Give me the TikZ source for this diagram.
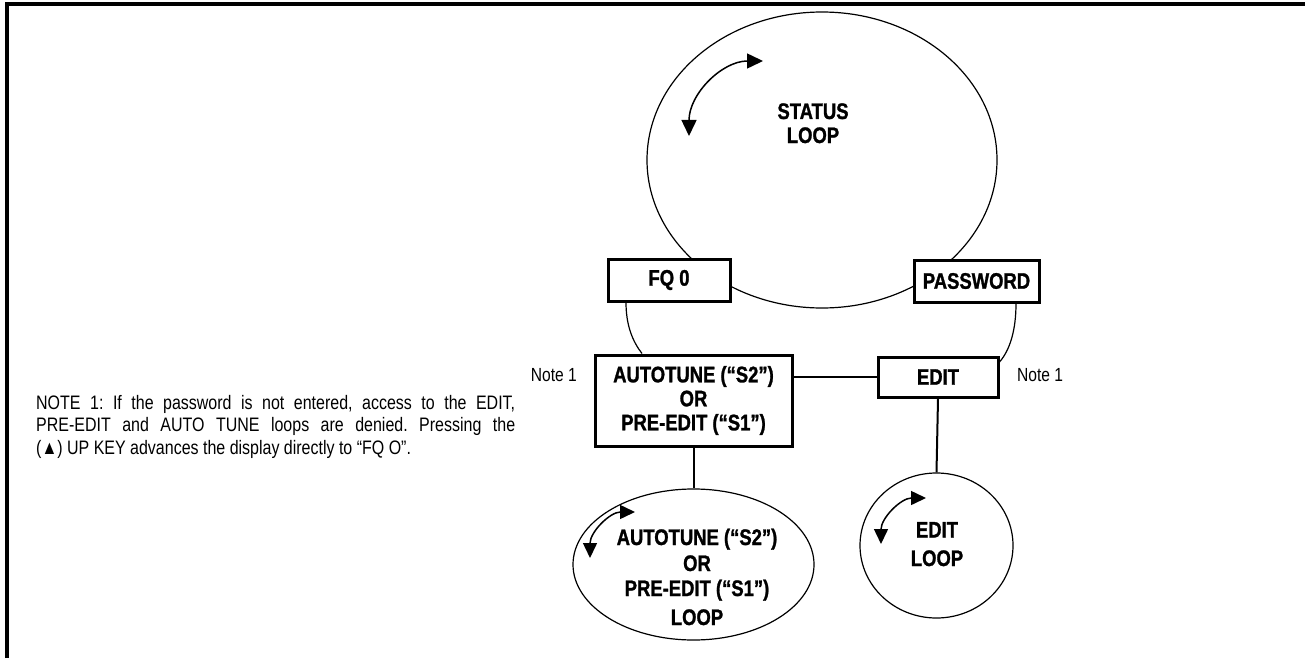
\documentclass[tikz,border=0pt]{standalone}
\usepackage{fontspec}
\setmainfont{Liberation Sans}[FakeStretch=0.82,BoldFeatures={FakeBold=1.2}]
\usetikzlibrary{shapes.geometric,arrows.meta}
\begin{document}
\frenchspacing
\begin{tikzpicture}[x=1pt,y=-1pt,
  box/.style={draw,line width=3pt,fill=white,inner sep=0pt,align=center,
    font=\bfseries\fontsize{22.5}{24}\selectfont},
  loopshape/.style={draw,ellipse,line width=1.2pt,inner sep=0pt},
  lbl/.style={font=\bfseries\fontsize{22.5}{24}\selectfont,inner sep=0pt,anchor=base},
  conn/.style={line width=2pt},
  curvy/.style={line width=1.2pt},
  cyc/.style={line width=1.5pt,{Triangle[length=15pt,width=14pt]}-{Triangle[length=15pt,width=14pt]}},
  bigcyc/.style={line width=1.5pt,{Triangle[length=16pt,width=15pt]}-{Triangle[length=16pt,width=15pt]}},
  notelbl/.style={font=\fontsize{19}{22}\selectfont,inner sep=0pt}]
\useasboundingbox (0,0) rectangle (1305,658);
% frame
\draw[line width=3.5pt] (7,658) -- (7,4) -- (1305,4);
% status loop
\node[loopshape, minimum width=350pt, minimum height=296pt] (status) at (822,160) {};
\node[lbl] (st1) at (813,119) {STATUS};
\node[lbl] (st2) at (813,143) {LOOP};
\draw[bigcyc] (763,61) .. controls (722,61) and (689,94) .. (689,136);
% boxes
\node[box, minimum width=122pt, minimum height=42pt] (fq) at (669,280) {FQ 0};
\node[box, minimum width=125pt, minimum height=42pt] (pw) at (976.5,281) {PASSWORD};
\node[box, minimum width=197pt, minimum height=91pt] (auto) at (693.5,400.5) {AUTOTUNE (“S2”)\\OR\\PRE-EDIT (“S1”)};
\node[box, minimum width=120pt, minimum height=40pt] (edit) at (938,377) {EDIT};
% loops below
\node[loopshape, minimum width=241pt, minimum height=151pt] (autoloop) at (693.5,564.5) {};
\node[loopshape, minimum width=153pt, minimum height=145pt] (editloop) at (936.5,545.5) {};
\node[lbl] (al1) at (697,545) {AUTOTUNE (“S2”)};
\node[lbl] (al2) at (697,571) {OR};
\node[lbl] (al3) at (697,596) {PRE-EDIT (“S1”)};
\node[lbl] (al4) at (697,625) {LOOP};
\node[lbl] (el1) at (937,537.5) {EDIT};
\node[lbl] (el2) at (937,566) {LOOP};
\draw[cyc] (635,512) .. controls (610,512) and (590,532) .. (590,558);
\draw[cyc] (926,498) .. controls (901,498) and (881,518) .. (881,544);
% connectors
\draw[conn] (edit.west) -- (edit.west -| auto.east);
\draw[conn] (auto.south) -- (autoloop.north);
\draw[conn] (edit.south) -- (editloop.north);
\draw[curvy] ([xshift=-43pt]fq.south) .. controls (626,326) and (633,342) .. ([xshift=-51.5pt]auto.north);
\draw[curvy] ([xshift=39.5pt]pw.south) .. controls (1016,330) and (1010,350) .. ([yshift=15pt]edit.east);
% notes
\node[notelbl, anchor=base east] (n1) at (577,381) {Note 1};
\node[notelbl, anchor=base west] (n2) at (1017,381) {Note 1};
\node[anchor=north west, inner sep=0pt, text width=479pt, align=justify,
  font=\fontsize{19.5}{22.5}\selectfont] (para) at (36,395)
  {NOTE 1: If the password is not entered, access to the EDIT,\linebreak
   PRE-EDIT and AUTO TUNE loops are denied. Pressing the\linebreak
   (▲) UP KEY advances the display directly to “FQ O”.};
\end{tikzpicture}
\end{document}
